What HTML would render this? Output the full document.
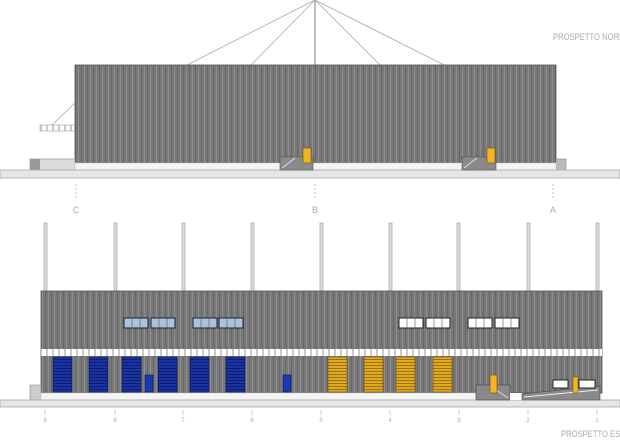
<!DOCTYPE html>
<html><head><meta charset="utf-8"><style>
html,body{margin:0;padding:0;background:#fff;width:620px;height:440px;overflow:hidden}
svg{display:block}
text{font-family:"Liberation Sans",sans-serif;fill:#aaa}
</style></head><body>
<svg width="620" height="440" viewBox="0 0 620 440" xmlns="http://www.w3.org/2000/svg">
<defs>
<pattern id="st" width="6" height="10" patternUnits="userSpaceOnUse">
<rect width="6" height="10" fill="#787878"/><rect x="0" width="1" height="10" fill="#8c8c8c"/><rect x="3" width="1" height="10" fill="#686868"/>
</pattern>
<pattern id="bl" width="10" height="3" patternUnits="userSpaceOnUse">
<rect width="10" height="3" fill="#1a33a0"/><rect y="2" width="10" height="1" fill="#0d1f70"/>
</pattern>
<pattern id="ye" width="10" height="3" patternUnits="userSpaceOnUse">
<rect width="10" height="3" fill="#e0aa20"/><rect y="2" width="10" height="1" fill="#9a7310"/>
</pattern>
<pattern id="wb" width="6" height="7" patternUnits="userSpaceOnUse">
<rect width="6" height="7" fill="#fff"/><rect x="4" width="2" height="7" fill="#ccc"/>
</pattern>
</defs>
<!-- TOP ELEVATION -->
<g stroke="#aaa" stroke-width="0.8" fill="none">
<line x1="315" y1="0" x2="315" y2="65" stroke-width="1.5"/>
<line x1="315" y1="0" x2="187" y2="65"/><line x1="315" y1="0" x2="251" y2="65"/>
<line x1="315" y1="0" x2="380" y2="65"/><line x1="315" y1="0" x2="444" y2="65"/>
<line x1="75" y1="103" x2="52" y2="125"/>
</g>
<rect x="40" y="125" width="35" height="6" fill="url(#wb)" stroke="#999" stroke-width="0.6"/>
<rect x="75" y="65" width="481" height="98" fill="url(#st)" stroke="#555" stroke-width="0.8"/>
<rect x="30" y="159" width="45" height="11" fill="#ddd" stroke="#888" stroke-width="0.6"/>
<rect x="30" y="159" width="10" height="11" fill="#999"/>
<rect x="556" y="159" width="10" height="11" fill="#bbb" stroke="#888" stroke-width="0.6"/>
<rect x="75" y="163" width="481" height="7" fill="#f4f4f4" stroke="#ccc" stroke-width="0.5"/>
<rect x="0" y="170" width="620" height="8" fill="#e6e6e6" stroke="#aaa" stroke-width="0.8"/>
<rect x="280" y="157" width="33" height="13" fill="#8a8a8a" stroke="#555" stroke-width="0.6"/>
<line x1="282" y1="168" x2="295" y2="158" stroke="#ddd"/>
<rect x="303" y="148" width="8" height="15" fill="#f0b424" stroke="#6a5010" stroke-width="0.6"/>
<rect x="462" y="157" width="34" height="13" fill="#8a8a8a" stroke="#555" stroke-width="0.6"/>
<line x1="464" y1="168" x2="477" y2="158" stroke="#ddd"/>
<rect x="487" y="148" width="8" height="15" fill="#f0b424" stroke="#6a5010" stroke-width="0.6"/>
<g stroke="#aaa" stroke-width="0.7" stroke-dasharray="2,2">
<line x1="76" y1="184" x2="76" y2="200"/><line x1="315" y1="184" x2="315" y2="200"/><line x1="553" y1="184" x2="553" y2="200"/>
</g>
<text x="76" y="213" font-size="9" text-anchor="middle">C</text>
<text x="315" y="213" font-size="9" text-anchor="middle">B</text>
<text x="553" y="213" font-size="9" text-anchor="middle">A</text>
<text x="553" y="40" font-size="9" transform="translate(553 0) scale(0.85 1) translate(-553 0)">PROSPETTO NORD</text>

<!-- BOTTOM ELEVATION -->
<g fill="#ddd" stroke="#999" stroke-width="0.6">
<rect x="44" y="223" width="3" height="68"/><rect x="114" y="223" width="3" height="68"/>
<rect x="182" y="223" width="3" height="68"/><rect x="251" y="223" width="3" height="68"/>
<rect x="320" y="223" width="3" height="68"/><rect x="389" y="223" width="3" height="68"/>
<rect x="457" y="223" width="3" height="68"/><rect x="527" y="223" width="3" height="68"/>
<rect x="596" y="223" width="3" height="68"/>
</g>
<rect x="41" y="291" width="561" height="102" fill="url(#st)" stroke="#555" stroke-width="0.8"/>
<rect x="41" y="349" width="561" height="7" fill="url(#wb)"/>
<rect x="30" y="385" width="11" height="15" fill="#ccc" stroke="#888" stroke-width="0.6"/>
<rect x="41" y="393" width="436" height="7" fill="#f4f4f4" stroke="#ccc" stroke-width="0.5"/>
<rect x="0" y="400" width="620" height="7" fill="#e6e6e6" stroke="#aaa" stroke-width="0.8"/>
<g stroke="#0a1550" stroke-width="0.6">
<rect x="53" y="357" width="19" height="35" fill="url(#bl)"/><rect x="89" y="357" width="19" height="35" fill="url(#bl)"/>
<rect x="122" y="357" width="19" height="35" fill="url(#bl)"/><rect x="158" y="357" width="19" height="35" fill="url(#bl)"/>
<rect x="190" y="357" width="19" height="35" fill="url(#bl)"/><rect x="226" y="357" width="19" height="35" fill="url(#bl)"/>
<rect x="145" y="375" width="8" height="17" fill="#1a3ab0"/><rect x="283" y="375" width="8" height="17" fill="#1a3ab0"/>
</g>
<g stroke="#6a5010" stroke-width="0.6">
<rect x="328" y="357" width="19" height="35" fill="url(#ye)"/><rect x="364" y="357" width="19" height="35" fill="url(#ye)"/>
<rect x="396" y="357" width="19" height="35" fill="url(#ye)"/><rect x="433" y="357" width="19" height="35" fill="url(#ye)"/>
</g>
<g stroke="#222" stroke-width="1">
<rect x="124" y="318" width="24" height="10" fill="#a9c3e0"/><rect x="151" y="318" width="24" height="10" fill="#a9c3e0"/>
<rect x="193" y="318" width="24" height="10" fill="#a9c3e0"/><rect x="219" y="318" width="24" height="10" fill="#a9c3e0"/>
<rect x="399" y="318" width="24" height="10" fill="#fff"/><rect x="426" y="318" width="24" height="10" fill="#fff"/>
<rect x="468" y="318" width="24" height="10" fill="#fff"/><rect x="495" y="318" width="24" height="10" fill="#fff"/>
</g>
<g stroke="#555" stroke-width="0.6">
<line x1="132" y1="318" x2="132" y2="328"/><line x1="140" y1="318" x2="140" y2="328"/>
<line x1="159" y1="318" x2="159" y2="328"/><line x1="167" y1="318" x2="167" y2="328"/>
<line x1="201" y1="318" x2="201" y2="328"/><line x1="209" y1="318" x2="209" y2="328"/>
<line x1="227" y1="318" x2="227" y2="328"/><line x1="235" y1="318" x2="235" y2="328"/>
<line x1="407" y1="318" x2="407" y2="328"/><line x1="415" y1="318" x2="415" y2="328"/>
<line x1="434" y1="318" x2="434" y2="328"/><line x1="442" y1="318" x2="442" y2="328"/>
<line x1="476" y1="318" x2="476" y2="328"/><line x1="484" y1="318" x2="484" y2="328"/>
<line x1="503" y1="318" x2="503" y2="328"/><line x1="511" y1="318" x2="511" y2="328"/>
</g>
<rect x="476" y="385" width="34" height="15" fill="#8a8a8a" stroke="#444" stroke-width="0.6"/>
<line x1="490" y1="386" x2="508" y2="398" stroke="#ddd"/>
<rect x="490" y="375" width="7" height="18" fill="#f0b424" stroke="#6a5010" stroke-width="0.6"/>
<rect x="510" y="393" width="12" height="7" fill="#fff"/>
<polygon points="522,394 600,386 600,400 522,400" fill="#8a8a8a" stroke="#444" stroke-width="0.6"/>
<line x1="524" y1="397" x2="598" y2="390" stroke="#eee"/>
<rect x="553" y="380" width="15" height="8" fill="#fff" stroke="#222"/>
<rect x="579" y="380" width="16" height="8" fill="#fff" stroke="#222"/>
<rect x="573" y="377" width="5" height="16" fill="#f0b424" stroke="#6a5010" stroke-width="0.5"/>
<g font-size="6" text-anchor="middle">
<text x="45" y="422">9</text><text x="115" y="422">8</text><text x="183" y="422">7</text>
<text x="252" y="422">6</text><text x="321" y="422">5</text><text x="390" y="422">4</text>
<text x="459" y="422">3</text><text x="528" y="422">2</text><text x="597" y="422">1</text>
</g>
<g stroke="#aaa" stroke-width="0.6">
<line x1="45" y1="410" x2="45" y2="415"/><line x1="115" y1="410" x2="115" y2="415"/><line x1="183" y1="410" x2="183" y2="415"/>
<line x1="252" y1="410" x2="252" y2="415"/><line x1="321" y1="410" x2="321" y2="415"/><line x1="390" y1="410" x2="390" y2="415"/>
<line x1="459" y1="410" x2="459" y2="415"/><line x1="528" y1="410" x2="528" y2="415"/><line x1="597" y1="410" x2="597" y2="415"/>
</g>
<text x="561" y="437" font-size="9" transform="translate(561 0) scale(0.85 1) translate(-561 0)">PROSPETTO EST</text>
</svg>
</body></html>
